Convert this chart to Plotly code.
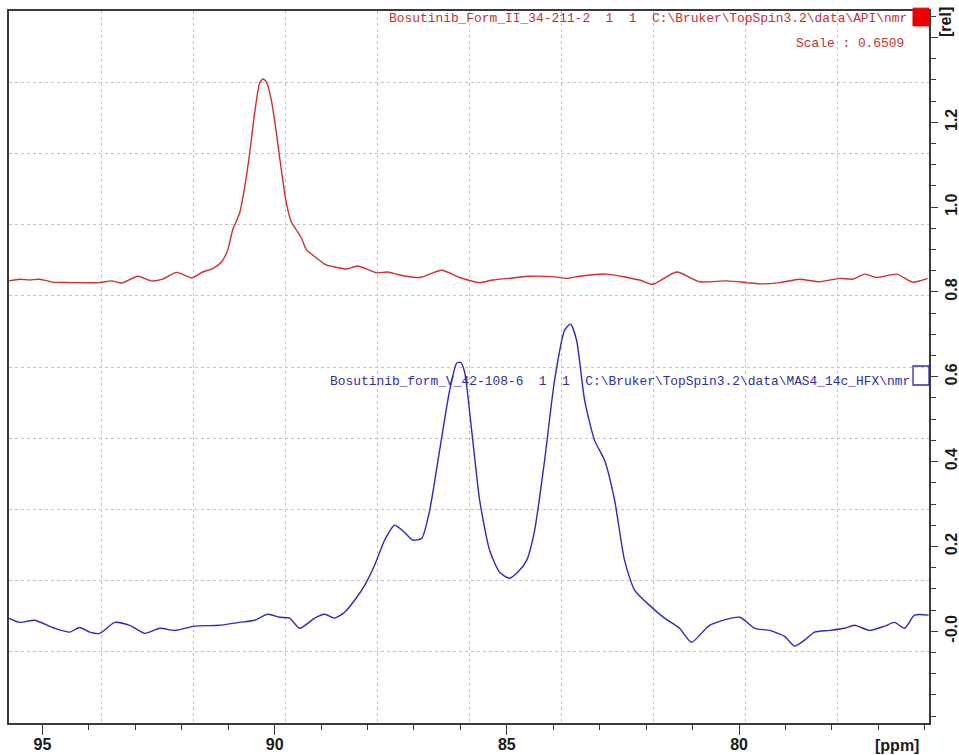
import plotly.graph_objects as go

# ---- data ----
ppm_red = [95.726, 95.489, 95.273, 95.058, 94.778, 94.348, 93.766, 93.508, 93.293, 92.948,
           92.647, 92.410, 92.109, 91.786, 91.549, 91.334, 91.140, 91.011, 90.904, 90.753,
           90.645, 90.538, 90.430, 90.322, 90.251, 90.178, 90.071, 89.963, 89.855, 89.747,
           89.639, 89.532, 89.424, 89.316, 89.181, 88.879, 88.664, 88.449, 88.212, 87.803,
           87.566, 87.308, 86.877, 86.404, 86.016, 85.586, 85.306, 84.875, 84.509, 84.014,
           83.713, 83.433, 82.852, 82.141, 81.861, 81.345, 80.850, 80.268, 79.838, 79.558,
           79.127, 78.697, 78.266, 77.835, 77.555, 77.297, 77.039, 76.608, 76.263, 75.940]
int_red = [0.826, 0.830, 0.828, 0.830, 0.823, 0.822, 0.822, 0.826, 0.821, 0.837,
           0.826, 0.830, 0.846, 0.833, 0.847, 0.855, 0.871, 0.899, 0.946, 0.986,
           1.047, 1.127, 1.222, 1.293, 1.302, 1.295, 1.252, 1.175, 1.087, 1.009,
           0.965, 0.946, 0.927, 0.899, 0.887, 0.863, 0.858, 0.854, 0.861, 0.845,
           0.847, 0.840, 0.834, 0.851, 0.834, 0.822, 0.828, 0.833, 0.837, 0.836,
           0.832, 0.837, 0.842, 0.828, 0.818, 0.847, 0.824, 0.826, 0.822, 0.819,
           0.822, 0.830, 0.824, 0.832, 0.830, 0.842, 0.834, 0.842, 0.823, 0.832]

ppm_blue = [95.726, 95.489, 95.166, 94.735, 94.412, 94.197, 93.982, 93.766, 93.443, 93.121,
            92.798, 92.475, 92.152, 91.721, 91.183, 90.753, 90.430, 90.150, 89.892, 89.677,
            89.461, 89.138, 88.923, 88.708, 88.492, 88.277, 88.062, 87.846, 87.631, 87.416,
            87.200, 87.028, 86.834, 86.662, 86.447, 86.232, 86.081, 85.995, 85.909, 85.758,
            85.586, 85.371, 85.156, 84.940, 84.768, 84.574, 84.402, 84.187, 83.972, 83.756,
            83.627, 83.498, 83.326, 83.111, 82.896, 82.680, 82.465, 82.250, 81.927, 81.604,
            81.281, 81.023, 80.635, 79.989, 79.666, 79.343, 79.020, 78.805, 78.590, 78.374,
            78.051, 77.728, 77.513, 77.190, 76.867, 76.651, 76.436, 76.221, 75.920]
int_blue = [0.031, 0.021, 0.026, 0.007, -0.002, 0.009, -0.002, -0.005, 0.021, 0.014,
            -0.005, 0.007, 0.002, 0.012, 0.014, 0.021, 0.026, 0.040, 0.033, 0.031,
            0.007, 0.031, 0.040, 0.031, 0.045, 0.073, 0.108, 0.156, 0.215, 0.250,
            0.233, 0.215, 0.219, 0.285, 0.427, 0.568, 0.632, 0.634, 0.611, 0.474,
            0.309, 0.191, 0.139, 0.125, 0.139, 0.167, 0.238, 0.403, 0.592, 0.710,
            0.724, 0.686, 0.545, 0.450, 0.403, 0.309, 0.167, 0.097, 0.061, 0.031,
            0.007, -0.026, 0.014, 0.033, 0.007, 0.002, -0.012, -0.035, -0.021, -0.002,
            0.002, 0.007, 0.014, 0.002, 0.012, 0.021, 0.007, 0.038, 0.038]

y_tick_vals = [0.0, 0.2, 0.4, 0.6, 0.8, 1.0, 1.2, 1.4]
y_tick_text = ["-0.0", "0.2", "0.4", "0.6", "0.8", "1.0", "1.2", ""]

label_red = "Bosutinib_Form_II_34-211-2  1  1  C:\\Bruker\\TopSpin3.2\\data\\API\\nmr"
label_red_scale = "Scale : 0.6509"
label_blue = "Bosutinib_form_V_42-108-6  1  1  C:\\Bruker\\TopSpin3.2\\data\\MAS4_14c_HFX\\nmr"

RED = "#cc3030"
BLUE = "#2c2cb4"
FRAME = "#3a3a3a"
TICKFONT = dict(family="Liberation Sans, Arial, sans-serif", size=16, color="#1a1a1a", weight="bold")
MONO = "Courier New, Liberation Mono, monospace"

def nb(s):
    return s.replace(" ", "\u00a0")

fig = go.Figure()
fig.add_trace(go.Scatter(x=ppm_red, y=int_red, mode="lines",
                         line=dict(color=RED, width=1.4, shape="spline", smoothing=0.6),
                         hoverinfo="skip", showlegend=False))
fig.add_trace(go.Scatter(x=ppm_blue, y=int_blue, mode="lines",
                         line=dict(color=BLUE, width=1.4, shape="spline", smoothing=0.6),
                         hoverinfo="skip", showlegend=False))
# helper axes carrying the 10x10 dashed grid
fig.add_trace(go.Scatter(x=[], y=[], xaxis="x2", yaxis="y2", showlegend=False, hoverinfo="skip"))

fig.update_layout(
    width=959, height=755,
    margin=dict(l=9, r=30, t=11, b=32),
    paper_bgcolor="white", plot_bgcolor="white",
    xaxis=dict(range=[95.72, 75.91], tickmode="linear", tick0=0, dtick=5, automargin=False,
               ticks="outside", ticklen=10, tickwidth=1.3, tickcolor=FRAME, ticklabelstandoff=-4,
               minor=dict(tickmode="linear", tick0=0, dtick=1, ticks="outside",
                          ticklen=5, tickwidth=1.3, tickcolor=FRAME, showgrid=False),
               showline=True, linecolor=FRAME, linewidth=1.5, mirror=True,
               showgrid=False, zeroline=False, tickfont=TICKFONT),
    yaxis=dict(range=[-0.2163, 1.4623], side="right", automargin=False,
               tickmode="array", tickvals=y_tick_vals, ticktext=y_tick_text,
               ticks="outside", ticklen=7, tickwidth=1.3, tickcolor=FRAME, tickangle=-90,
               minor=dict(tickmode="linear", tick0=0, dtick=0.05, ticks="outside",
                          ticklen=5, tickwidth=1.3, tickcolor=FRAME, showgrid=False),
               showline=True, linecolor=FRAME, linewidth=1.5, mirror=True,
               showgrid=False, zeroline=False, tickfont=TICKFONT),
    xaxis2=dict(range=[0, 10], overlaying="x", side="top", tickmode="linear", tick0=0, dtick=1,
                automargin=False, showticklabels=False, ticks="", showline=False, zeroline=False,
                showgrid=True, gridcolor="#c4c4c4", gridwidth=1, griddash="3px,3px"),
    yaxis2=dict(range=[0, 10], overlaying="y", side="left", tickmode="linear", tick0=0, dtick=1,
                automargin=False, showticklabels=False, ticks="", showline=False, zeroline=False,
                showgrid=True, gridcolor="#c4c4c4", gridwidth=1, griddash="3px,3px"),
)

fig.add_annotation(xref="paper", yref="paper", x=0.978, y=0.989, xanchor="right", yanchor="middle",
                   text=nb(label_red), showarrow=False, font=dict(family=MONO, size=12.9, color="#c43030"))
fig.add_annotation(xref="paper", yref="paper", x=0.975, y=0.955, xanchor="right", yanchor="middle",
                   text=nb(label_red_scale), showarrow=False, font=dict(family=MONO, size=12.9, color="#c43030"))
fig.add_annotation(xref="paper", yref="paper", x=0.982, y=0.4795, xanchor="right", yanchor="middle",
                   text=nb(label_blue), showarrow=False, font=dict(family=MONO, size=12.9, color="#30309a"))
fig.add_annotation(xref="paper", yref="paper", x=0.9652, y=-0.031, xanchor="center", yanchor="middle",
                   text="[ppm]", showarrow=False, font=TICKFONT)
fig.add_annotation(xref="paper", yref="paper", x=1.0185, y=0.9846, xanchor="center", yanchor="middle",
                   text="[rel]", textangle=-90, showarrow=False, font=TICKFONT)

# spectrum markers (legend boxes)
fig.add_shape(type="rect", xref="paper", yref="paper", x0=0.9826, x1=1.0, y0=0.979, y1=1.004,
              fillcolor="#ee0000", line=dict(color="#ee0000", width=1))
fig.add_shape(type="rect", xref="paper", yref="paper", x0=0.9826, x1=1.0, y0=0.4747, y1=0.5014,
              fillcolor="rgba(0,0,0,0)", line=dict(color="#2c2cb4", width=1.3))

fig.write_html("out.html", config={"displayModeBar": False},
               post_script="document.body.style.margin='0';")
